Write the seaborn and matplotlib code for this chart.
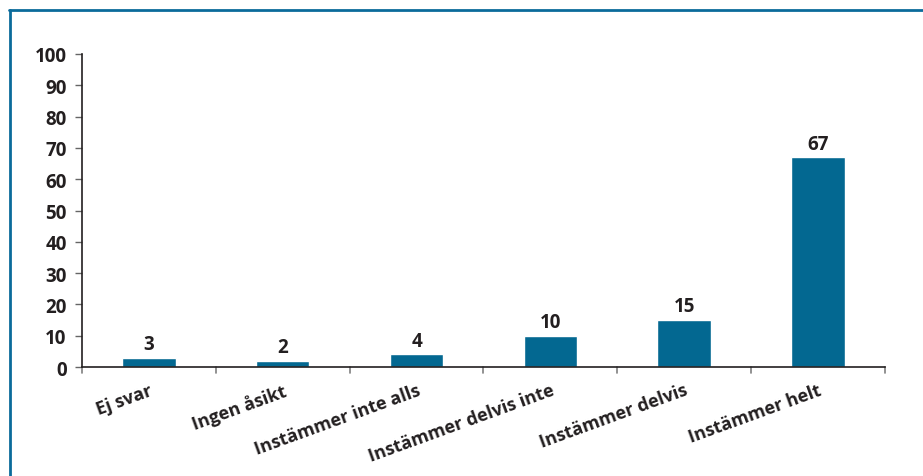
import matplotlib
matplotlib.use("Agg")
import matplotlib.pyplot as plt
from matplotlib.lines import Line2D
import seaborn as sns
import pandas as pd

categories = ["Ej svar", "Ingen åsikt", "Instämmer inte alls",
              "Instämmer delvis inte", "Instämmer delvis", "Instämmer helt"]
values = [3, 2, 4, 10, 15, 67]
yticks = [0, 10, 20, 30, 40, 50, 60, 70, 80, 90, 100]

sns.set_theme(style="white")
plt.rcParams["font.family"] = ["Open Sans", "DejaVu Sans"]

bar_color = "#036891"
frame_color = "#0b6b9b"
text_color = "#231f20"
weight = "bold"
fsize = 13

df = pd.DataFrame({"kategori": categories, "andel": values})

fig = plt.figure(figsize=(9.23, 4.77), dpi=100)
ax = fig.add_axes([0.0888, 0.2285, 0.8700, 0.6562])

sns.barplot(data=df, x="kategori", y="andel", color=bar_color,
            width=0.4, saturation=1, ax=ax)

ax.set_xlim(-0.5, len(categories) - 0.5)
ax.set_ylim(0, 100)
ax.set_yticks(yticks)
ax.set_yticklabels([str(t) for t in yticks], fontsize=fsize + 0.5,
                   fontweight=weight, color=text_color)
ax.set_xlabel("")
ax.set_ylabel("")

# category labels, rotated
ax.set_xticks(range(len(categories)))
ax.set_xticklabels(categories, rotation=20, ha="right",
                   rotation_mode="anchor", fontsize=fsize,
                   fontweight=weight, color=text_color)
ax.tick_params(axis="x", length=0, pad=10)

# boundary tick marks between categories
for b in [i - 0.5 for i in range(len(categories) + 1)]:
    ax.plot([b, b], [0, -1.8], color="#7f7f7f", lw=1.2,
            clip_on=False, transform=ax.transData)

ax.tick_params(axis="y", length=5, width=1, color="#666666",
               direction="out", pad=6, left=True)

for side in ["top", "right"]:
    ax.spines[side].set_visible(False)
for side in ["left", "bottom"]:
    ax.spines[side].set_color(text_color)
    ax.spines[side].set_linewidth(1.2)

# value labels above bars
for i, v in enumerate(values):
    ax.text(i, v + 1.2, str(v), ha="center", va="bottom",
            fontsize=fsize + 0.5, fontweight=weight, color=text_color)

# blue frame along top and left edge
fig.add_artist(Line2D([8.5 / 923, 1.0], [1 - 11 / 477, 1 - 11 / 477],
                      color=frame_color, lw=2.0, transform=fig.transFigure))
fig.add_artist(Line2D([9.5 / 923, 9.5 / 923], [1 - 11 / 477, 0],
                      color=frame_color, lw=2.0, transform=fig.transFigure))

fig.savefig("out.png", dpi=100)
